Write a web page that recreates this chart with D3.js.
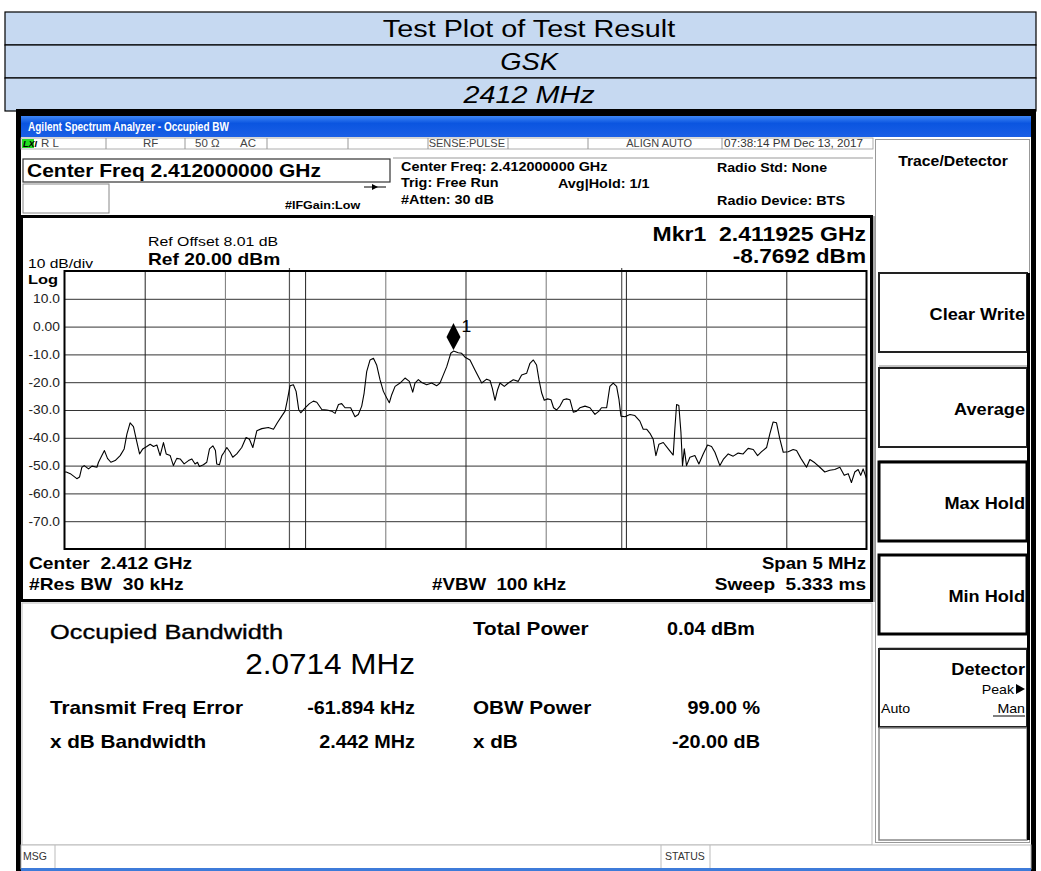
<!DOCTYPE html>
<html><head><meta charset="utf-8">
<script src="https://cdn.jsdelivr.net/npm/d3@7"></script>
<style>body{margin:0;background:#fff;} svg{display:block;font-family:"Liberation Sans",Arial,sans-serif;}</style>
</head><body><svg id="c" width="1041" height="871"></svg>
<script>
// ---------- data ----------
const headerRows = ["Test Plot of Test Result", "GSK", "2412 MHz"];
const freqOffsetMHz = [-2.5,-2.489,-2.464,-2.423,-2.406,-2.392,-2.377,-2.350,-2.329,-2.298,-2.288,-2.267,-2.251,-2.232,-2.211,-2.184,-2.153,-2.128,-2.111,-2.091,-2.070,-2.053,-2.032,-2.012,-1.987,-1.966,-1.945,-1.924,-1.904,-1.893,-1.883,-1.866,-1.841,-1.821,-1.800,-1.779,-1.754,-1.727,-1.706,-1.686,-1.671,-1.659,-1.634,-1.613,-1.596,-1.575,-1.559,-1.551,-1.534,-1.519,-1.505,-1.488,-1.467,-1.451,-1.426,-1.395,-1.368,-1.347,-1.326,-1.301,-1.270,-1.229,-1.197,-1.173,-1.146,-1.125,-1.110,-1.094,-1.073,-1.056,-1.040,-1.027,-1.000,-0.973,-0.948,-0.927,-0.896,-0.865,-0.834,-0.813,-0.792,-0.772,-0.751,-0.716,-0.689,-0.668,-0.647,-0.632,-0.616,-0.595,-0.574,-0.554,-0.533,-0.512,-0.491,-0.475,-0.460,-0.439,-0.408,-0.377,-0.350,-0.329,-0.315,-0.294,-0.273,-0.242,-0.211,-0.180,-0.159,-0.142,-0.117,-0.092,-0.075,-0.045,-0.024,-0.003,0.028,0.059,0.101,0.132,0.153,0.167,0.184,0.200,0.215,0.242,0.267,0.298,0.329,0.350,0.381,0.402,0.423,0.443,0.458,0.475,0.491,0.512,0.533,0.549,0.568,0.589,0.610,0.630,0.651,0.672,0.693,0.713,0.745,0.776,0.807,0.832,0.848,0.880,0.900,0.921,0.942,0.957,0.969,0.994,1.025,1.056,1.087,1.108,1.129,1.150,1.170,1.187,1.206,1.233,1.264,1.295,1.305,1.316,1.330,1.343,1.353,1.364,1.378,1.399,1.430,1.455,1.482,1.509,1.534,1.555,1.586,1.607,1.638,1.669,1.700,1.731,1.762,1.794,1.821,1.846,1.877,1.897,1.918,1.939,1.960,1.981,2.012,2.043,2.064,2.091,2.126,2.147,2.178,2.209,2.240,2.271,2.302,2.334,2.361,2.386,2.406,2.427,2.448,2.464,2.479,2.500];
const levelDbm = [-52.3,-52.3,-52.9,-54.7,-54.1,-50.6,-50.0,-51.2,-50.2,-50.6,-48.8,-46.4,-44.6,-47.4,-48.8,-48.2,-46.4,-44.0,-38.7,-34.6,-36.0,-40.5,-45.8,-44.0,-43.1,-42.3,-43.1,-42.6,-46.4,-44.0,-41.7,-45.8,-46.4,-50.0,-47.4,-47.6,-49.4,-48.2,-47.6,-49.4,-48.8,-50.3,-49.7,-48.8,-44.0,-42.9,-44.6,-49.4,-49.7,-46.4,-45.2,-43.5,-45.2,-47.0,-45.8,-43.5,-39.9,-40.5,-43.5,-37.5,-36.7,-36.3,-36.9,-34.6,-32.2,-30.4,-26.3,-21.3,-20.9,-23.3,-29.8,-31.0,-29.2,-27.7,-26.8,-27.2,-29.8,-30.0,-30.4,-31.2,-28.0,-27.7,-29.2,-29.2,-32.4,-31.6,-28.6,-23.9,-16.2,-12.0,-11.4,-13.8,-19.1,-23.3,-25.7,-27.4,-24.5,-21.5,-20.3,-18.5,-19.7,-23.6,-20.3,-19.1,-20.1,-20.9,-20.3,-21.3,-20.3,-17.9,-14.4,-9.6,-8.8,-9.4,-9.6,-11.0,-12.0,-15.6,-20.3,-18.9,-19.4,-22.1,-26.5,-22.7,-20.3,-21.5,-20.3,-19.1,-19.7,-17.4,-16.8,-13.2,-12.0,-13.8,-19.1,-23.9,-26.5,-26.0,-26.3,-29.2,-30.0,-28.6,-26.3,-26.0,-26.3,-30.8,-30.4,-29.2,-28.6,-29.2,-31.6,-30.4,-29.2,-29.2,-21.5,-20.3,-21.5,-26.3,-32.2,-32.4,-31.6,-32.0,-34.0,-36.9,-36.9,-38.4,-40.5,-46.4,-42.3,-41.7,-44.0,-46.2,-36.9,-28.0,-28.4,-37.9,-50.0,-44.0,-50.0,-47.0,-46.4,-49.4,-45.8,-42.6,-43.1,-45.2,-50.0,-47.8,-45.8,-46.6,-45.5,-45.8,-43.8,-44.2,-46.4,-45.0,-43.5,-38.7,-34.3,-34.6,-40.5,-45.2,-45.0,-44.2,-44.6,-47.4,-50.6,-47.8,-49.0,-50.6,-52.3,-51.7,-51.4,-50.6,-53.5,-52.9,-56.1,-52.3,-51.4,-53.5,-51.2,-54.7];
const yTickValues = [10, 0, -10, -20, -30, -40, -50, -60, -70];
const yTickLabels = ["10.0", "0.00", "-10.0", "-20.0", "-30.0", "-40.0", "-50.0", "-60.0", "-70.0"];
const xGridMHz = [-2.0, -1.5, -1.0, -0.5, 0.0, 0.5, 1.0, 1.5, 2.0];
const freqErrorMHz = -0.061894;
const obwMHz = 2.0714;
const markerOffsetMHz = -0.075;
const markerLevel = -8.7692;
const softKeys = ["Clear Write", "Average", "Max Hold", "Min Hold"];

// ---------- drawing ----------
const svg = d3.select("#c");
const F = "Liberation Sans, Arial, sans-serif";
function txt(x, y, s, size, opts = {}) {
  const sx = opts.sx || 1;
  return svg.append("text").attr("transform", `translate(${x},${y}) scale(${sx},1)`).text(s)
    .attr("font-size", size).attr("font-weight", opts.w || "normal")
    .attr("font-style", opts.i ? "italic" : "normal")
    .attr("text-anchor", opts.a || "start").attr("fill", opts.c || "#000")
    .style("white-space", "pre");
}

// header table
const hdrTop = 12, hdrH = 33;
const hdrSx = [1.2, 1.14, 1.2];
headerRows.forEach((r, i) => {
  svg.append("rect").attr("x", 5).attr("y", hdrTop + i * hdrH).attr("width", 1031).attr("height", hdrH)
    .attr("fill", "#c6d9f1").attr("stroke", "#000").attr("stroke-width", 1.2);
  txt(529, hdrTop + i * hdrH + 25, r, 24, { a: "middle", i: i > 0, sx: hdrSx[i] });
});

// outer black frame of screenshot
svg.append("rect").attr("x", 16).attr("y", 109).attr("width", 1020).attr("height", 7).attr("fill", "#000");
svg.append("rect").attr("x", 16).attr("y", 109).attr("width", 5).attr("height", 762).attr("fill", "#000");
svg.append("rect").attr("x", 1031).attr("y", 109).attr("width", 5).attr("height", 762).attr("fill", "#000");

// title bar
const defs = svg.append("defs");
const g1 = defs.append("linearGradient").attr("id", "tb").attr("x1", 0).attr("y1", 0).attr("x2", 0).attr("y2", 1);
g1.append("stop").attr("offset", "0").attr("stop-color", "#3d86f5");
g1.append("stop").attr("offset", "0.35").attr("stop-color", "#0b55e0");
g1.append("stop").attr("offset", "1").attr("stop-color", "#1a5fe6");
svg.append("rect").attr("x", 21).attr("y", 116).attr("width", 1010).attr("height", 21).attr("fill", "url(#tb)");
svg.append("text").attr("x", 28).attr("y", 131).text("Agilent Spectrum Analyzer - Occupied BW")
  .attr("font-size", 12.5).attr("font-weight", "bold").attr("fill", "#fff")
  .attr("textLength", 201).attr("lengthAdjust", "spacingAndGlyphs");

// instrument body background
svg.append("rect").attr("x", 21).attr("y", 137).attr("width", 1010).attr("height", 734).attr("fill", "#fff");

// status row
svg.append("rect").attr("x", 21).attr("y", 138).attr("width", 852).attr("height", 11).attr("fill", "#fff").attr("stroke", "#999").attr("stroke-width", 0.8);
[106, 185, 267, 348, 428, 508, 588, 722].forEach(x => svg.append("line").attr("x1", x).attr("x2", x).attr("y1", 138).attr("y2", 149).attr("stroke", "#999"));
svg.append("rect").attr("x", 22).attr("y", 139).attr("width", 12).attr("height", 9).attr("fill", "#22dd22");
txt(23, 147, "LXI", 9, { w: "bold", i: true });
txt(41, 147, "R L", 10, { c: "#444", sx: 1.15 });
txt(143, 147, "RF", 10, { c: "#444", sx: 1.15 });
txt(195, 147, "50 Ω", 10, { c: "#444", sx: 1.15 });
txt(240, 147, "AC", 10, { c: "#444", sx: 1.15 });
txt(505, 147, "SENSE:PULSE", 10, { c: "#444", a: "end", sx: 1.1 });
txt(692, 147, "ALIGN AUTO", 10, { c: "#444", a: "end", sx: 1.1 });
txt(724, 147, "07:38:14 PM Dec 13, 2017", 10, { c: "#333", sx: 1.17 });

// settings area
svg.append("rect").attr("x", 23).attr("y", 159).attr("width", 367).attr("height", 23).attr("fill", "#fff").attr("stroke", "#333").attr("stroke-width", 1.2);
txt(27, 177, "Center Freq 2.412000000 GHz", 17.5, { w: "bold", sx: 1.2 });
svg.append("rect").attr("x", 23).attr("y", 184).attr("width", 86).attr("height", 29).attr("fill", "#fff").attr("stroke", "#888").attr("stroke-width", 1);
txt(285, 209, "#IFGain:Low", 11, { w: "bold", sx: 1.14 });
svg.append("line").attr("x1", 364).attr("x2", 386).attr("y1", 187).attr("y2", 187).attr("stroke", "#000").attr("stroke-width", 1);
svg.append("path").attr("d", "M372,184 L378,187 L372,190 Z").attr("fill", "#000");
svg.append("line").attr("x1", 393).attr("x2", 873).attr("y1", 158).attr("y2", 158).attr("stroke", "#999");
txt(401, 171, "Center Freq: 2.412000000 GHz", 12, { w: "bold", sx: 1.2 });
txt(401, 187, "Trig: Free Run", 12, { w: "bold", sx: 1.2 });
txt(401, 204, "#Atten: 30 dB", 12, { w: "bold", sx: 1.2 });
txt(558, 188, "Avg|Hold: 1/1", 12, { w: "bold", sx: 1.2 });
txt(717, 172, "Radio Std: None", 12, { w: "bold", sx: 1.18 });
txt(717, 205, "Radio Device: BTS", 12, { w: "bold", sx: 1.2 });

// graph panel frame
svg.append("rect").attr("x", 21.5).attr("y", 216.5).attr("width", 850).attr("height", 384).attr("fill", "#fff").attr("stroke", "#000").attr("stroke-width", 3);
svg.append("line").attr("x1", 874).attr("x2", 874).attr("y1", 216).attr("y2", 602).attr("stroke", "#aaa").attr("stroke-width", 2);

const x = d3.scaleLinear().domain([-2.5, 2.5]).range([64.5, 866.5]);
const y = d3.scaleLinear().domain([-80, 20]).range([549, 271]);

// grid via axes
const gy = svg.append("g").attr("transform", `translate(${x.range()[0]},0)`)
  .call(d3.axisLeft(y).tickValues(yTickValues).tickSize(-(x.range()[1] - x.range()[0])).tickFormat((d, i) => yTickLabels[i]).tickPadding(4));
gy.select(".domain").remove();
gy.selectAll(".tick line").attr("stroke", "#333").attr("stroke-width", 1);
gy.selectAll(".tick text").attr("font-size", 12).attr("font-family", F).attr("fill", "#222").attr("transform", "scale(1.15,1)");
const gx = svg.append("g").attr("transform", `translate(0,${y.range()[1]})`)
  .call(d3.axisBottom(x).tickValues(xGridMHz).tickSize(y.range()[0] - y.range()[1]).tickFormat(""));
gx.select(".domain").remove();
gx.selectAll(".tick line").attr("stroke", (d, i) => (i % 2 ? "#777" : "#222")).attr("stroke-width", 1);

// OBW edge lines
const obwEdges = [freqErrorMHz - obwMHz / 2, freqErrorMHz + obwMHz / 2];
svg.selectAll(".obw").data(obwEdges).join("line").attr("class", "obw")
  .attr("x1", d => x(d)).attr("x2", d => x(d)).attr("y1", y(20) - 3).attr("y2", y(-80))
  .attr("stroke", "#555").attr("stroke-width", 1.2);

// plot frame
svg.append("rect").attr("x", x(-2.5)).attr("y", y(20)).attr("width", x(2.5) - x(-2.5)).attr("height", y(-80) - y(20))
  .attr("fill", "none").attr("stroke", "#000").attr("stroke-width", 2);

// trace
const trace = freqOffsetMHz.map((f, i) => [f, levelDbm[i]]);
svg.append("path").datum(trace)
  .attr("d", d3.line().x(d => x(d[0])).y(d => y(d[1])))
  .attr("fill", "none").attr("stroke", "#000").attr("stroke-width", 1.1).attr("stroke-linejoin", "round");

// marker
const mx = x(markerOffsetMHz), my = y(markerLevel);
svg.append("path").attr("d", `M${mx},${my - 1} L${mx - 7},${my - 14} L${mx},${my - 28} L${mx + 7},${my - 14} Z`).attr("fill", "#000");
txt(mx + 8, my - 19, "1", 16, { sx: 1.1 });

// graph annotations
txt(148, 246, "Ref Offset 8.01 dB", 13, { sx: 1.22 });
txt(148, 265, "Ref 20.00 dBm", 16, { w: "bold", sx: 1.2 });
txt(28, 268, "10 dB/div", 13, { sx: 1.2 });
txt(28, 284, "Log", 13.5, { w: "bold", sx: 1.22 });
txt(866, 241, "Mkr1  2.411925 GHz", 19.5, { w: "bold", a: "end", sx: 1.18 });
txt(866, 263, "-8.7692 dBm", 19.5, { w: "bold", a: "end", sx: 1.16 });
txt(29, 569, "Center  2.412 GHz", 16, { w: "bold", sx: 1.2 });
txt(29, 590, "#Res BW  30 kHz", 16, { w: "bold", sx: 1.2 });
txt(432, 590, "#VBW  100 kHz", 16, { w: "bold", sx: 1.17 });
txt(866, 569, "Span 5 MHz", 16, { w: "bold", a: "end", sx: 1.16 });
txt(866, 590, "Sweep  5.333 ms", 16, { w: "bold", a: "end", sx: 1.19 });

// results panel
svg.append("rect").attr("x", 22).attr("y", 603).attr("width", 850).attr("height", 242).attr("fill", "#fff").attr("stroke", "#bbb").attr("stroke-width", 1);
txt(50, 639, "Occupied Bandwidth", 20.5, { sx: 1.24 }).attr("stroke", "#000").attr("stroke-width", 0.35);
txt(415, 674, "2.0714 MHz", 30, { a: "end", sx: 1.05 });
txt(50, 714, "Transmit Freq Error", 18, { w: "bold", sx: 1.15 });
txt(415, 714, "-61.894 kHz", 18, { w: "bold", a: "end", sx: 1.1 });
txt(50, 748, "x dB Bandwidth", 18, { w: "bold", sx: 1.15 });
txt(415, 748, "2.442 MHz", 18, { w: "bold", a: "end", sx: 1.1 });
txt(473, 635, "Total Power", 18, { w: "bold", sx: 1.15 });
txt(667, 635, "0.04 dBm", 18, { w: "bold", sx: 1.1 });
txt(473, 714, "OBW Power", 18, { w: "bold", sx: 1.15 });
txt(760, 714, "99.00 %", 18, { w: "bold", a: "end", sx: 1.1 });
txt(473, 748, "x dB", 18, { w: "bold", sx: 1.15 });
txt(760, 748, "-20.00 dB", 18, { w: "bold", a: "end", sx: 1.1 });

// status bar
svg.append("rect").attr("x", 21).attr("y", 845).attr("width", 1010).attr("height", 24).attr("fill", "#fff").attr("stroke", "#bbb");
svg.append("line").attr("x1", 55).attr("x2", 55).attr("y1", 845).attr("y2", 869).attr("stroke", "#bbb");
svg.append("line").attr("x1", 661).attr("x2", 661).attr("y1", 845).attr("y2", 869).attr("stroke", "#bbb");
svg.append("line").attr("x1", 710).attr("x2", 710).attr("y1", 845).attr("y2", 869).attr("stroke", "#bbb");
txt(23, 860, "MSG", 10, { c: "#333", sx: 1.05 });
txt(665, 860, "STATUS", 10, { c: "#333", sx: 1.05 });
svg.append("rect").attr("x", 21).attr("y", 868).attr("width", 1010).attr("height", 3).attr("fill", "#3d7bd9");

// right soft-key panel
svg.append("rect").attr("x", 875.5).attr("y", 139.5).attr("width", 154).attr("height", 703).attr("fill", "#fff").attr("stroke", "#999");
txt(953, 166, "Trace/Detector", 14.5, { w: "bold", a: "middle", sx: 1.09 });
const keyTop = [273, 368, 462, 555];
softKeys.forEach((k, i) => {
  svg.append("rect").attr("x", 879).attr("y", keyTop[i]).attr("width", 148).attr("height", 79)
    .attr("fill", "#fff").attr("stroke", i < 2 ? "#222" : "#000").attr("stroke-width", i < 2 ? 2 : 3);
  svg.append("line").attr("x1", 879).attr("x2", 1027).attr("y1", keyTop[i] + 93).attr("y2", keyTop[i] + 93).attr("stroke", "#888");
  txt(1025, keyTop[i] + 47, k, 16.5, { w: "bold", a: "end", sx: 1.1 });
});
svg.append("rect").attr("x", 879).attr("y", 649).attr("width", 148).attr("height", 78).attr("fill", "#fff").attr("stroke", "#222").attr("stroke-width", 2);
txt(1025, 675, "Detector", 17, { w: "bold", a: "end", sx: 1.07 });
txt(1014, 694, "Peak", 13.5, { a: "end", sx: 1.05 });
svg.append("path").attr("d", "M1016,684 L1025,689 L1016,694 Z").attr("fill", "#000");
txt(881, 713, "Auto", 13.5, { sx: 1.05 });
txt(1025, 713, "Man", 13.5, { a: "end", sx: 1.05 });
svg.append("line").attr("x1", 993).attr("x2", 1025).attr("y1", 716).attr("y2", 716).attr("stroke", "#000");
svg.append("rect").attr("x", 879).attr("y", 728).attr("width", 148).attr("height", 112).attr("fill", "#fff").attr("stroke", "#888").attr("stroke-width", 1.5);
svg.append("rect").attr("x", 1027).attr("y", 273).attr("width", 3).attr("height", 567).attr("fill", "#000");
</script></body></html>
